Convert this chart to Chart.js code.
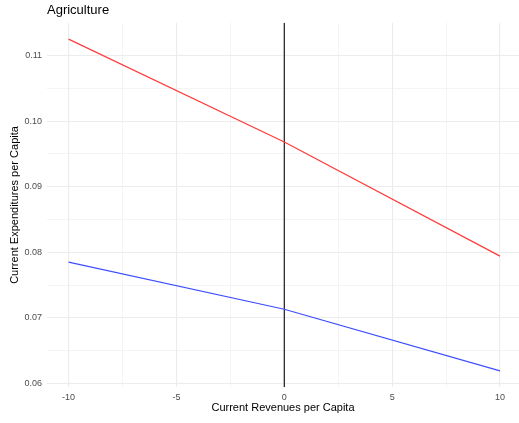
<!DOCTYPE html>
<html>
<head>
<meta charset="utf-8">
<script src="https://cdn.jsdelivr.net/npm/chart.js@4"></script>
<style>
    body { margin: 0; background: #fff; }
    canvas { display: block; }
</style>
</head>
<body>
<canvas id="grafico" width="519" height="423"></canvas>
<script>
// Datos
const ingresos = [-10, 0, 10];
const gastoRojo = [0.1125, 0.0968, 0.0794];
const gastoAzul = [0.0785, 0.0713, 0.0619];
const lineaCero = [0.0594, 0.1150];

// Ticks
const ticksX = [-10, -7.5, -5, -2.5, 0, 2.5, 5, 7.5, 10];
const etiquetasX = [-10, -5, 0, 5, 10];
const ticksY = [0.06, 0.065, 0.07, 0.075, 0.08, 0.085, 0.09, 0.095, 0.1, 0.105, 0.11];
const etiquetasY = ['0.06', '0.07', '0.08', '0.09', '0.10', '0.11'];

const fuente = "'Liberation Sans', Arial, Helvetica, sans-serif";

function esMayorX(v) {
    return etiquetasX.includes(v);
}

function esMayorY(v) {
    return etiquetasY.includes(v.toFixed(2)) && Math.abs(v * 100 - Math.round(v * 100)) < 1e-6;
}

// Título alineado con el panel
const pluginTitulo = {
    id: 'titulo',
    afterDraw(chart) {
        const ctx = chart.ctx;
        ctx.save();
        ctx.font = '13px ' + fuente;
        ctx.fillStyle = '#000';
        ctx.textBaseline = 'alphabetic';
        ctx.fillText('Agriculture', chart.chartArea.left, 14);
        ctx.restore();
    }
};

new Chart(document.getElementById('grafico'), {
    type: 'line',
    data: {
        datasets: [
            {
                data: ingresos.map((x, i) => ({ x: x, y: gastoRojo[i] })),
                borderColor: '#ff3b3b',
                borderWidth: 1.2,
                pointRadius: 0,
                tension: 0
            },
            {
                data: ingresos.map((x, i) => ({ x: x, y: gastoAzul[i] })),
                borderColor: '#3d4dff',
                borderWidth: 1.2,
                pointRadius: 0,
                tension: 0
            },
            {
                data: lineaCero.map(y => ({ x: 0, y: y })),
                borderColor: '#1a1a1a',
                borderWidth: 1.2,
                pointRadius: 0
            }
        ]
    },
    options: {
        responsive: false,
        animation: false,
        layout: {
            padding: { top: 22.7, left: 0, right: 0, bottom: 0 }
        },
        plugins: {
            legend: { display: false },
            tooltip: { enabled: false }
        },
        scales: {
            x: {
                type: 'linear',
                min: -11,
                max: 10.88,
                afterBuildTicks(scale) {
                    scale.ticks = ticksX.map(v => ({ value: v }));
                },
                afterFit(scale) {
                    scale.height = 35.7;
                },
                border: { display: false },
                grid: {
                    drawTicks: false,
                    color: '#ececec',
                    lineWidth: ctx => esMayorX(ctx.tick.value) ? 1.1 : 0.6
                },
                ticks: {
                    padding: 5,
                    autoSkip: false,
                    maxRotation: 0,
                    color: '#4d4d4d',
                    font: { family: fuente, size: 9 },
                    callback: v => esMayorX(v) ? String(v) : ''
                },
                title: {
                    display: true,
                    text: 'Current Revenues per Capita',
                    color: '#000',
                    font: { family: fuente, size: 11 },
                    padding: { top: 0, bottom: 8.4 }
                }
            },
            y: {
                type: 'linear',
                min: 0.0594,
                max: 0.1150,
                afterBuildTicks(scale) {
                    scale.ticks = ticksY.map(v => ({ value: v }));
                },
                afterFit(scale) {
                    scale.width = 47;
                },
                border: { display: false },
                grid: {
                    drawTicks: false,
                    color: '#ececec',
                    lineWidth: ctx => esMayorY(ctx.tick.value) ? 1.1 : 0.6
                },
                ticks: {
                    padding: 5,
                    autoSkip: false,
                    color: '#4d4d4d',
                    font: { family: fuente, size: 9 },
                    callback: v => esMayorY(v) ? v.toFixed(2) : ''
                },
                title: {
                    display: true,
                    text: 'Current Expenditures per Capita',
                    color: '#000',
                    font: { family: fuente, size: 11 },
                    padding: { top: 8.5, bottom: 0 }
                }
            }
        }
    },
    plugins: [pluginTitulo]
});
</script>
</body>
</html>
